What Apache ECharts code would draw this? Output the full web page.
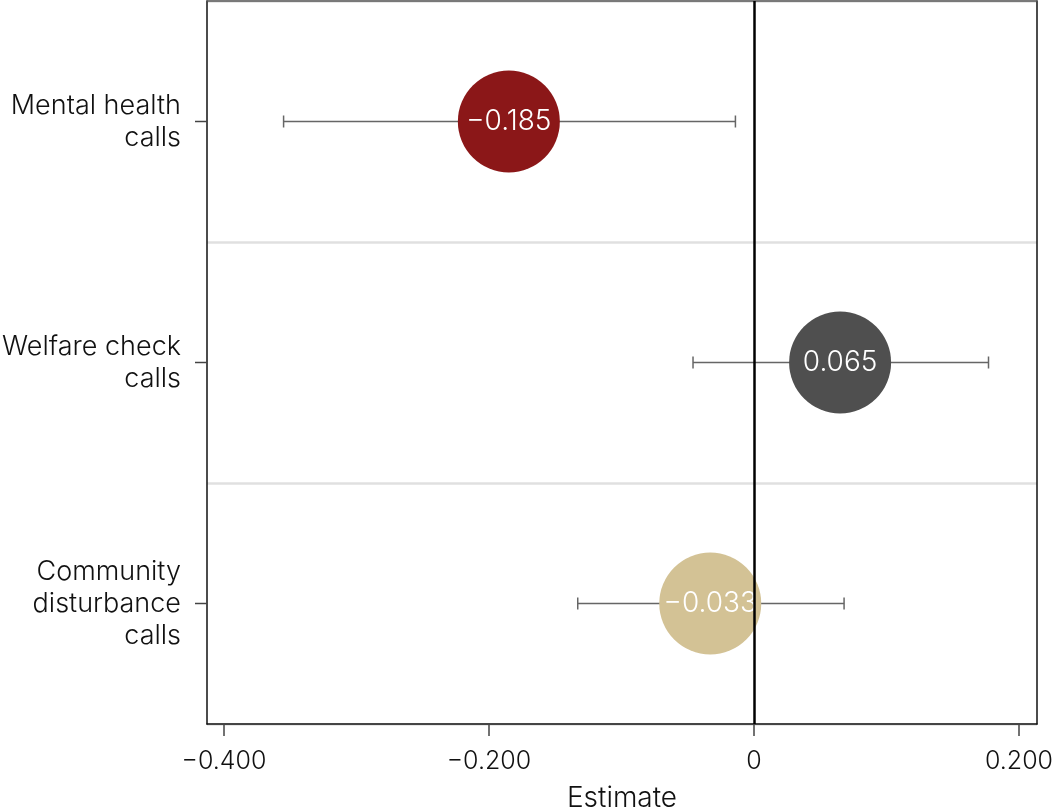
<!DOCTYPE html>
<html>
<head>
<meta charset="utf-8">
<script src="https://cdn.jsdelivr.net/npm/echarts@6/dist/echarts.min.js"></script>
<style>
html,body{margin:0;padding:0;background:#fff;}
#chart{width:1052px;height:811px;}
</style>
</head>
<body>
<div id="chart"></div>
<script>
const categories = ['Mental health\ncalls', 'Welfare check\ncalls', 'Community\ndisturbance\ncalls'];
const estimates = [-0.185, 0.065, -0.033];
const lower = [-0.355, -0.046, -0.133];
const upper = [-0.014, 0.177, 0.068];
const pointColors = ['#8b1718', '#4f4f4f', '#d3c295'];
const tickValues = [-0.4, -0.2, 0, 0.2];

const FONT = 'Inter, "Noto Sans", sans-serif';
const fmt = v => v === 0 ? '0' : (v < 0 ? '\u2212' : '') + Math.abs(v).toFixed(3);

const chart = echarts.init(document.getElementById('chart'), null, {renderer: 'canvas'});

const errData = categories.map((c, i) => [i, lower[i], upper[i]]);
const ptData = categories.map((c, i) => ({
  value: [estimates[i], i],
  itemStyle: {color: pointColors[i], opacity: 1}
}));

chart.setOption({
  animation: false,
  grid: {left: 207, right: 15, top: 1, bottom: 87, containLabel: false, outerBoundsMode: 'none'},
  xAxis: [{
    type: 'value', min: -0.4128, max: 0.2136,
    name: 'Estimate', nameLocation: 'middle', nameGap: 61,
    nameTextStyle: {fontFamily: FONT, fontSize: 28, fontWeight: 300, color: '#111'},
    axisLine: {show: true, onZero: false, lineStyle: {color: '#111', width: 1.5}},
    axisTick: {show: true, length: 12, customValues: tickValues, lineStyle: {color: '#444', width: 1.5}},
    axisLabel: {customValues: tickValues, formatter: fmt, margin: 25, fontFamily: FONT, fontSize: 25, fontWeight: 300, color: '#111'},
    splitLine: {show: false}
  }, {
    type: 'value', position: 'top', min: -0.4128, max: 0.2136,
    axisLine: {show: true, onZero: false, lineStyle: {color: '#555', width: 1.5}},
    axisTick: {show: false}, axisLabel: {show: false}, splitLine: {show: false}
  }],
  yAxis: [{
    type: 'category', data: categories, inverse: true, boundaryGap: true,
    axisLine: {show: true, onZero: false, lineStyle: {color: '#111', width: 1.5}},
    axisTick: {show: false},
    axisLabel: {margin: 26, fontFamily: FONT, fontSize: 27, fontWeight: 300, lineHeight: 32, color: '#111', align: 'right'},
    splitLine: {show: true, lineStyle: {color: '#e0e0e0', width: 2.5}}
  }, {
    type: 'category', data: categories, inverse: true, position: 'right',
    axisLine: {show: true, onZero: false, lineStyle: {color: '#111', width: 1.5}},
    axisTick: {show: false}, axisLabel: {show: false}, splitLine: {show: false}
  }],
  series: [{
    type: 'custom',
    z: 2,
    data: errData,
    renderItem: function (params, api) {
      const y = api.coord([0, api.value(0)])[1];
      const x1 = api.coord([api.value(1), 0])[0];
      const x2 = api.coord([api.value(2), 0])[0];
      const style = {stroke: '#666', lineWidth: 1.5};
      return {type: 'group', children: [
        {type: 'line', shape: {x1: x1, y1: y, x2: x2, y2: y}, style: style},
        {type: 'line', shape: {x1: x1, y1: y - 6, x2: x1, y2: y + 6}, style: style},
        {type: 'line', shape: {x1: x2, y1: y - 6, x2: x2, y2: y + 6}, style: style},
        {type: 'line', shape: {x1: 195, y1: y, x2: 207, y2: y}, style: {stroke: '#444', lineWidth: 1.5}}
      ]};
    },
    encode: {x: [1, 2], y: 0}
  }, {
    type: 'scatter',
    z: 3,
    symbol: 'circle',
    symbolSize: 102,
    data: ptData,
    emphasis: {disabled: true},
    label: {
      show: true, position: 'inside',
      formatter: p => fmt(p.value[0]),
      color: '#fff', fontFamily: FONT, fontSize: 28, fontWeight: 300
    }
  }, {
    type: 'line',
    z: 4,
    data: [],
    markLine: {
      silent: true, symbol: 'none',
      label: {show: false},
      lineStyle: {color: '#000', width: 2.5, type: 'solid'},
      data: [{xAxis: 0}]
    }
  }]
});
</script>
</body>
</html>
